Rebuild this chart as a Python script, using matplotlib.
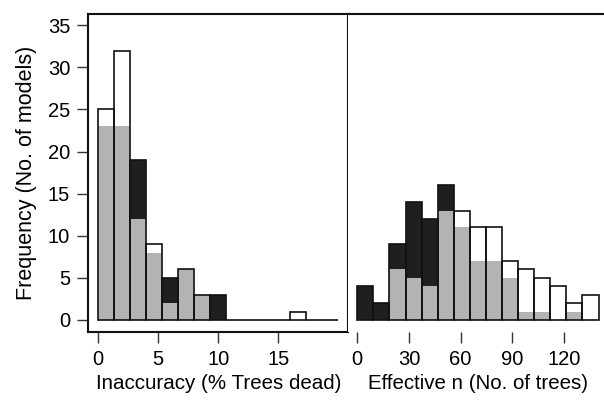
import numpy as np
import matplotlib
matplotlib.use('Agg')
import matplotlib.pyplot as plt

plt.rcParams['font.family'] = ['Liberation Sans', 'DejaVu Sans']

black_color = '#1f1f1f'
white_color = '#ffffff'
gray_color = '#b3b3b3'
line_color = '#111111'

# left panel: inaccuracy, 15 bins of width 4/3 from 0 to 20
inacc_edges = np.linspace(0, 20, 16)
inacc_white = [25, 32, 12, 9, 2, 6, 3, 0, 0, 0, 0, 0, 1, 0, 0]
inacc_black = [23, 23, 19, 8, 5, 6, 3, 3, 0, 0, 0, 0, 0, 0, 0]

# right panel: effective n, 15 bins from 0 to 140
effn_edges = np.linspace(0, 140, 16)
effn_white = [0, 0, 6, 5, 4, 13, 13, 11, 11, 7, 6, 5, 4, 2, 3]
effn_black = [4, 2, 9, 14, 12, 16, 11, 7, 7, 5, 1, 1, 0, 1, 0]

yticks = [0, 5, 10, 15, 20, 25, 30, 35]


def draw_overlap(ax, edges, white, black):
	"""two histograms drawn on top of each other, overlap in gray"""
	white = np.array(white)
	black = np.array(black)
	left = edges[:-1]
	width = np.diff(edges)
	top = np.maximum(white, black)
	low = np.minimum(white, black)
	fill = [white_color if w >= b else black_color for w, b in zip(white, black)]
	ax.bar(left, top, width=width, align='edge', color=fill, edgecolor='none', zorder=2)
	ax.bar(left, low, width=width, align='edge', color=gray_color, edgecolor='none', zorder=3)
	ax.bar(left, top, width=width, align='edge', color='none', edgecolor=line_color, linewidth=1.2, zorder=4)


fig = plt.figure(figsize=(6.04, 4.0), dpi=100)
ax1 = fig.add_axes([88.3 / 604, 68.3 / 400, 260.0 / 604, 317.7 / 400])
ax2 = fig.add_axes([348.3 / 604, 68.3 / 400, 259.2 / 604, 317.7 / 400])

draw_overlap(ax1, inacc_edges, inacc_white, inacc_black)
draw_overlap(ax2, effn_edges, effn_white, effn_black)

ylim = (-1.39, 36.34)
ax1.set_xlim(-0.83, 20.83)
ax1.set_ylim(*ylim)
ax2.set_xlim(-5.2, 145.2)
ax2.set_ylim(*ylim)

ax1.set_xticks([0, 5, 10, 15])
ax1.set_yticks(yticks)
ax2.set_xticks([0, 30, 60, 90, 120])
ax2.set_yticks([])

for ax in (ax1, ax2):
	for s in ax.spines.values():
		s.set_linewidth(1.5)
		s.set_color(line_color)
	ax.tick_params(direction='out', length=8, width=1.0, color='#333333', labelsize=14.5, pad=5)
ax2.spines['bottom'].set_visible(False)
ax2.spines['right'].set_visible(False)
ax2.spines['left'].set_visible(False)

ax1.set_xlabel('Inaccuracy (% Trees dead)', fontsize=14.8, labelpad=4)
ax2.set_xlabel('Effective n (No. of trees)', fontsize=14.8, labelpad=4)
ax1.set_ylabel('Frequency (No. of models)', fontsize=15.5, labelpad=8)

fig.savefig('out.png', dpi=100, facecolor='white')
